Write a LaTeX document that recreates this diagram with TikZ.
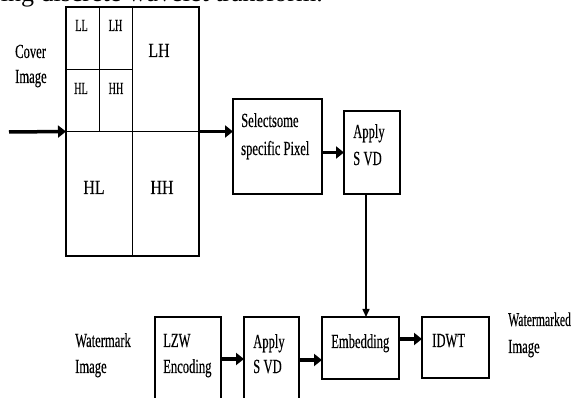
\documentclass[tikz,border=0pt]{standalone}
\usepackage{fontspec}
\setmainfont{Liberation Serif}
\newfontfamily\cf[FakeStretch=0.63,FakeBold=0.3]{Liberation Serif}
\newfontfamily\cfw[FakeStretch=0.8,FakeBold=0.3]{Liberation Serif}
\newfontfamily\cfn[FakeStretch=0.6,FakeBold=0.3]{Liberation Serif}
\usetikzlibrary{arrows.meta,calc}
\begin{document}
\begin{tikzpicture}[x=1pt,y=-1pt,
  box/.style={draw, line width=1.1pt, inner sep=0pt, outer sep=0pt, anchor=north west},
  lbl/.style={anchor=base west, inner sep=0pt, font=\cf\fontsize{20}{24}\selectfont},
  lbln/.style={anchor=base west, inner sep=0pt, font=\cfn\fontsize{19.5}{24}\selectfont},
  qsm/.style={anchor=base, inner sep=0pt, font=\cfn\fontsize{17}{20}\selectfont},
  qbg/.style={anchor=base, inner sep=0pt, font=\cfw\fontsize{20}{24}\selectfont},
  arr/.style={line width=3.5pt, -{Triangle[length=8pt,width=12pt]}},
  varr/.style={line width=1.5pt, -{Triangle[length=8pt,width=7pt]}},
  ln/.style={line width=1.1pt}]
\useasboundingbox (0,0) rectangle (574,398);
\clip (0,0) rectangle (574,398);
% caption remnant
\node[anchor=base east, inner sep=0pt, font=\fontsize{26}{30}\selectfont] (cap) at (323,1.5) {ing discrete wavelet transform.};
% DWT box
\node[box, minimum width=133pt, minimum height=249pt] (dwt) at (66,7) {};
\draw[ln] (dwt.north) -- (dwt.south);
\draw[ln] (dwt.west) -- (dwt.east);
\draw[ln] ($(dwt.north west)!0.5!(dwt.north)$) -- ($(dwt.west)!0.5!(dwt.center)$);
\draw[ln] ($(dwt.north west)!0.5!(dwt.west)$) -- ($(dwt.north)!0.5!(dwt.center)$);
\node[qsm] (ll) at (81.5,31) {LL};
\node[qsm] (lhs) at (115.5,31) {LH};
\node[qsm] (hls) at (81,94) {HL};
\node[qsm] (hhs) at (116,94) {HH};
\node[qbg] (lhb) at (159,57) {LH};
\node[qbg] (hlb) at (94,194) {HL};
\node[qbg] (hhb) at (162,194) {HH};
% cover image label
\node[lbl] (cov1) at (15,58) {Cover};
\node[lbl] (cov2) at (15,83) {Image};
% boxes
\node[box, minimum width=89pt, minimum height=95pt] (sel) at (233,99) {};
\node[lbl] (sel1) at (241,127) {Selectsome};
\node[lbl] (sel2) at (241,155) {specific Pixel};
\node[box, minimum width=56pt, minimum height=83pt] (svda) at (344,111) {};
\node[lbl] (svda1) at (353,138) {Apply};
\node[lbl] (svda2) at (353,165) {S\,VD};
\node[box, minimum width=66pt, minimum height=100pt] (lzw) at (155,317) {};
\node[lbl] (lzw1) at (163,347) {LZW};
\node[lbl] (lzw2) at (163,373) {Encoding};
\node[box, minimum width=55pt, minimum height=100pt] (svdb) at (244,317) {};
\node[lbl] (svdb1) at (253,348) {Apply};
\node[lbl] (svdb2) at (253,373) {S\,VD};
\node[box, minimum width=77pt, minimum height=62pt] (emb) at (322,317) {};
\node[lbl] (emb1) at (331,348) {Embedding};
\node[box, minimum width=67pt, minimum height=61pt] (idwt) at (422,317) {};
\node[lbl] (idwt1) at (432,347) {IDWT};
\node[lbl] (wm1) at (75,347) {Watermark};
\node[lbl] (wm2) at (75,373) {Image};
\node[lbln] (wd1) at (508,326) {Watermarked};
\node[lbl] (wd2) at (508,353) {Image};
% connectors
\coordinate (in) at (9,132);
\coordinate (y359) at (0,359);
\coordinate (y360) at (0,360);
\coordinate (y339) at (0,339);
\draw[arr] (in) -- (dwt.west);
\draw[arr] (dwt.east) -- (sel.west |- dwt.east);
\draw[arr] (sel.east |- svda.west) -- (svda.west);
\draw[varr] ([xshift=-6pt]svda.south) -- ([xshift=-6pt]svda.south |- emb.north);
\draw[arr] (lzw.east |- y359) -- (svdb.west |- y359);
\draw[arr] (svdb.east |- y360) -- (emb.west |- y360);
\draw[arr] (emb.east |- y339) -- (idwt.west |- y339);
\end{tikzpicture}
\end{document}
